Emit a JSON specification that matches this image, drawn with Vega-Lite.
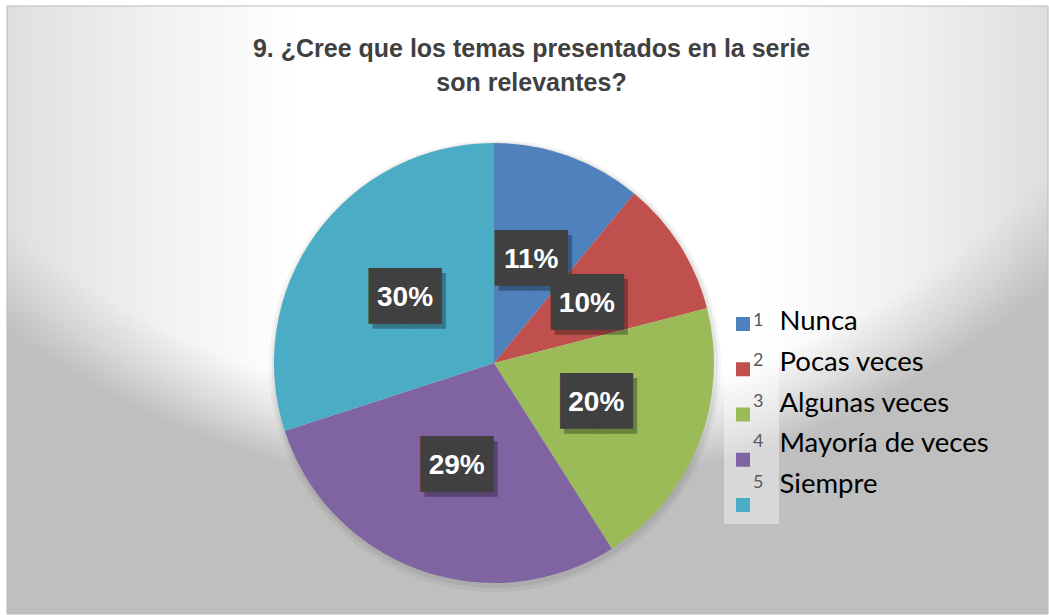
{
  "$schema": "https://vega.github.io/schema/vega-lite/v6.json",
  "width": 1049,
  "height": 615,
  "autosize": {"type": "fit", "contains": "padding"},
  "padding": {"left": 6, "top": 5, "right": 0, "bottom": 0},
  "background": "#ffffff",
  "config": {"view": {"stroke": null}},
  "title": {
    "text": ["9. ¿Cree que los temas presentados en la serie", "son relevantes?"],
    "font": "Liberation Sans",
    "fontSize": 25,
    "fontWeight": "bold",
    "color": "#404040",
    "anchor": "middle",
    "baseline": "top",
    "lineHeight": 34,
    "offset": -90,
    "dx": 4
  },
  "data": {
    "values": [
      {"num": "1", "label": "Nunca", "share": 0.11},
      {"num": "2", "label": "Pocas veces", "share": 0.10},
      {"num": "3", "label": "Algunas veces", "share": 0.20},
      {"num": "4", "label": "Mayoría de veces", "share": 0.29},
      {"num": "5", "label": "Siempre", "share": 0.30}
    ]
  },
  "layer": [
    {
      "data": {"values": [{}]},
      "mark": {
        "type": "rect",
        "stroke": "#b8b8b8",
        "strokeWidth": 1,
        "fill": {
          "gradient": "radial",
          "x1": 0.4736, "y1": -0.1337, "r1": 0,
          "x2": 0.4736, "y2": -0.1337, "r2": 0.8245,
          "stops": [
            {"offset": 0, "color": "#ffffff"},
            {"offset": 0.88, "color": "#ffffff"},
            {"offset": 0.935, "color": "#e0e0e0"},
            {"offset": 0.98, "color": "#bfbfbf"},
            {"offset": 1, "color": "#bfbfbf"}
          ]
        }
      }
    },
    {
      "data": {"values": [{}]},
      "mark": {
        "type": "rect",
        "fill": {
          "gradient": "linear",
          "x1": 0, "y1": 0, "x2": 1, "y2": 0,
          "stops": [
            {"offset": 0, "color": "rgba(191,191,191,0.5)"},
            {"offset": 0.1, "color": "rgba(191,191,191,0.3)"},
            {"offset": 0.2, "color": "rgba(191,191,191,0.12)"},
            {"offset": 0.28, "color": "rgba(191,191,191,0)"},
            {"offset": 0.72, "color": "rgba(191,191,191,0)"},
            {"offset": 0.86, "color": "rgba(191,191,191,0.22)"},
            {"offset": 1, "color": "rgba(191,191,191,0.5)"}
          ]
        }
      }
    },
    {
      "mark": {"type": "arc", "x": 488, "y": 360, "radius": 226, "color": "#000000", "opacity": 0.04},
      "encoding": {
        "theta": {"field": "share", "type": "quantitative", "stack": true},
        "order": {"field": "num", "type": "ordinal"}
      }
    },
    {
      "mark": {"type": "arc", "x": 488, "y": 359, "radius": 223, "color": "#000000", "opacity": 0.06},
      "encoding": {
        "theta": {"field": "share", "type": "quantitative", "stack": true},
        "order": {"field": "num", "type": "ordinal"}
      }
    },
    {
      "mark": {"type": "arc", "x": 487, "y": 357, "radius": 220},
      "encoding": {
        "theta": {"field": "share", "type": "quantitative", "stack": true},
        "order": {"field": "num", "type": "ordinal"},
        "color": {
          "field": "num",
          "type": "nominal",
          "scale": {"range": ["#4F81BD", "#C0504D", "#9BBB59", "#8064A2", "#4BACC6"]},
          "legend": {
            "orient": "none",
            "legendX": 717,
            "legendY": 293,
            "title": " ",
            "titleFontSize": 6,
            "titlePadding": 0,
            "padding": 10,
            "fillColor": "rgba(255,255,255,0.4)",
            "symbolType": "square",
            "symbolSize": 196,
            "symbolStrokeWidth": 0,
            "labelFont": "Lato",
            "labelFontSize": 18,
            "labelOpacity": 0,
            "labelOffset": 6,
            "rowPadding": 27.25,
            "zindex": 0
          }
        }
      }
    },
    {
      "mark": {"type": "arc", "x": 487, "y": 357, "radius": 220, "opacity": 0},
      "encoding": {
        "theta": {"field": "share", "type": "quantitative", "stack": true},
        "order": {"field": "num", "type": "ordinal"},
        "stroke": {
          "field": "label",
          "type": "nominal",
          "sort": ["Nunca", "Pocas veces", "Algunas veces", "Mayoría de veces", "Siempre"],
          "scale": {"range": ["#4F81BD", "#C0504D", "#9BBB59", "#8064A2", "#4BACC6"]},
          "legend": {
            "orient": "none",
            "legendX": 745,
            "legendY": 302,
            "title": null,
            "padding": 0,
            "symbolSize": 0,
            "symbolStrokeWidth": 0,
            "symbolOpacity": 0,
            "labelOffset": 0,
            "labelFont": "Lato",
            "labelFontSize": 27.5,
            "labelColor": "#000000",
            "labelLimit": 400,
            "rowPadding": 11.9,
            "zindex": 2
          }
        }
      }
    },
    {
      "mark": {"type": "arc", "x": 487, "y": 357, "radius": 220, "opacity": 0},
      "encoding": {
        "theta": {"field": "share", "type": "quantitative", "stack": true},
        "order": {"field": "num", "type": "ordinal"},
        "strokeWidth": {
          "field": "num",
          "type": "ordinal",
          "scale": {"domain": ["1", "2", "3", "4", "5"], "range": [1, 1, 1, 1, 1]},
          "legend": {
            "orient": "none",
            "legendX": 728,
            "legendY": 305.5,
            "title": null,
            "padding": 0,
            "symbolSize": 0,
            "symbolOpacity": 0,
            "symbolStrokeColor": "transparent",
            "labelOffset": 0,
            "labelFont": "Lato",
            "labelFontSize": 18,
            "labelColor": "#595959",
            "rowPadding": 22.5,
            "zindex": 2
          }
        }
      }
    },
    {
      "mark": {"type": "text", "x": 487, "y": 357, "radius": 110, "dx": 4, "dy": 5, "font": "DejaVu Sans", "fontSize": 47, "align": "center", "baseline": "middle", "color": "#000000", "opacity": 0.3},
      "encoding": {
        "theta": {"field": "share", "type": "quantitative", "stack": true},
        "order": {"field": "num", "type": "ordinal"},
        "text": {"value": "██"}
      }
    },
    {
      "mark": {"type": "text", "x": 487, "y": 357, "radius": 110, "font": "DejaVu Sans", "fontSize": 47, "align": "center", "baseline": "middle", "color": "#404040"},
      "encoding": {
        "theta": {"field": "share", "type": "quantitative", "stack": true},
        "order": {"field": "num", "type": "ordinal"},
        "text": {"value": "██"}
      }
    },
    {
      "mark": {"type": "text", "x": 487, "y": 357, "radius": 110, "font": "Liberation Sans", "fontWeight": "bold", "fontSize": 28, "align": "center", "baseline": "middle", "color": "#ffffff"},
      "encoding": {
        "theta": {"field": "share", "type": "quantitative", "stack": true},
        "order": {"field": "num", "type": "ordinal"},
        "text": {"field": "share", "type": "quantitative", "format": ".0%"}
      }
    }
  ]
}
